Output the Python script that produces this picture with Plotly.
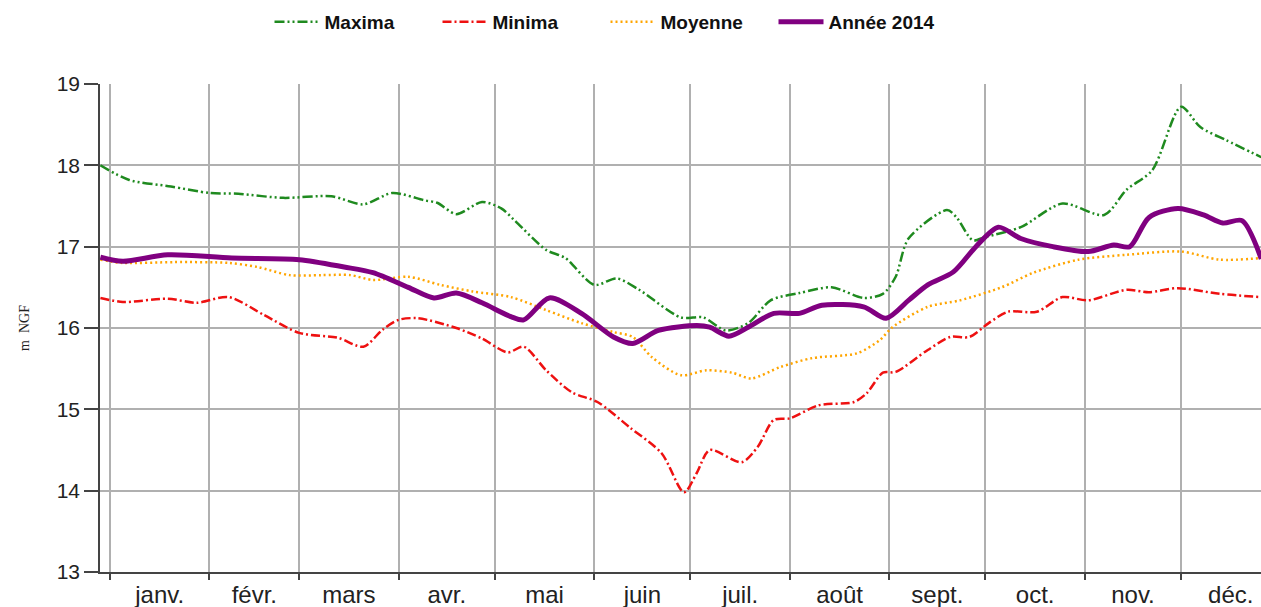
import pandas as pd
import plotly.graph_objects as go

# ---- data (x = days since 2014-01-01, y = m NGF) ----
max_days = [-3, 6, 19, 31, 40, 54, 69, 79, 88, 98, 102, 108, 116, 122, 126, 136, 142, 151, 158, 165,
            178, 185, 192, 199, 206, 215, 225, 235, 241, 245, 249, 261, 264, 269, 273, 284, 297, 310,
            317, 325, 334, 340, 348, 359]
max_vals = [18.00, 17.82, 17.74, 17.66, 17.65, 17.60, 17.62, 17.52, 17.66, 17.57, 17.54, 17.40, 17.55,
            17.47, 17.33, 16.96, 16.86, 16.53, 16.61, 16.47, 16.13, 16.13, 15.97, 16.06, 16.34, 16.43,
            16.50, 16.37, 16.42, 16.63, 17.10, 17.45, 17.36, 17.08, 17.12, 17.24, 17.53, 17.39, 17.70,
            17.94, 18.72, 18.47, 18.31, 18.10]

min_days = [-3, 4, 18, 27, 37, 48, 59, 71, 79, 85, 90, 96, 108, 116, 124, 129, 136, 144, 152, 162,
            172, 179, 183, 187, 197, 202, 207, 212, 221, 232, 236, 241, 245, 255, 262, 268, 274, 280,
            289, 297, 305, 317, 324, 333, 346, 359]
min_vals = [16.37, 16.32, 16.36, 16.31, 16.38, 16.16, 15.94, 15.88, 15.77, 15.98, 16.10, 16.12, 16.00,
            15.87, 15.70, 15.77, 15.48, 15.21, 15.09, 14.78, 14.46, 13.98, 14.22, 14.50, 14.35, 14.54,
            14.87, 14.89, 15.05, 15.09, 15.20, 15.45, 15.46, 15.73, 15.89, 15.89, 16.06, 16.20, 16.20,
            16.38, 16.34, 16.47, 16.44, 16.49, 16.42, 16.38]

moy_days = [-3, 4, 20, 37, 46, 56, 66, 75, 82, 93, 103, 113, 125, 136, 147, 157, 163, 169, 178, 186,
            194, 200, 209, 219, 233, 240, 244, 255, 265, 278, 288, 302, 317, 334, 346, 359]
moy_vals = [16.84, 16.80, 16.81, 16.80, 16.75, 16.65, 16.65, 16.65, 16.59, 16.63, 16.53, 16.45, 16.38,
            16.22, 16.06, 15.95, 15.89, 15.64, 15.42, 15.48, 15.45, 15.38, 15.52, 15.63, 15.69, 15.85,
            16.01, 16.26, 16.34, 16.50, 16.68, 16.84, 16.90, 16.94, 16.84, 16.86]

y2014_days = [-3, 4, 18, 38, 59, 73, 82, 93, 101, 108, 116, 125, 129, 137, 147, 157, 163, 171, 183,
              187, 193, 199, 207, 215, 222, 235, 242, 249, 255, 263, 270, 277, 284, 294, 305, 313, 318,
              324, 333, 341, 347, 353, 359]
y2014_vals = [16.87, 16.82, 16.90, 16.86, 16.84, 16.75, 16.68, 16.50, 16.37, 16.43, 16.31, 16.14, 16.10,
              16.37, 16.18, 15.89, 15.81, 15.97, 16.03, 16.01, 15.90, 16.01, 16.18, 16.18, 16.28, 16.26,
              16.12, 16.34, 16.53, 16.69, 17.00, 17.24, 17.10, 17.00, 16.94, 17.02, 17.00, 17.36, 17.47,
              17.39, 17.29, 17.32, 16.85]

month_labels = ["janv.", "févr.", "mars", "avr.", "mai", "juin", "juil.", "août", "sept.", "oct.",
                "nov.", "déc."]
y_ticks = [13, 14, 15, 16, 17, 18, 19]

base = pd.Timestamp("2014-01-01")


def to_dates(days):
    return [base + pd.Timedelta(days=d) for d in days]


month_starts = [pd.Timestamp(2014, m, 1) for m in range(1, 13)]
month_ends = month_starts[1:] + [pd.Timestamp(2015, 1, 1)]
month_mids = [s + (e - s) / 2 for s, e in zip(month_starts, month_ends)]

fig = go.Figure()
fig.add_trace(go.Scatter(x=to_dates(max_days), y=max_vals, name="Maxima", mode="lines",
                         line=dict(color="#1f8a1f", width=2.5, dash="10px,3px,2px,3px,2px,3px",
                                   shape="spline", smoothing=0.8)))
fig.add_trace(go.Scatter(x=to_dates(min_days), y=min_vals, name="Minima", mode="lines",
                         line=dict(color="#ee1111", width=2.5, dash="9px,3px,2px,3px",
                                   shape="spline", smoothing=0.8)))
fig.add_trace(go.Scatter(x=to_dates(moy_days), y=moy_vals, name="Moyenne", mode="lines",
                         line=dict(color="#ffa500", width=2.5, dash="2px,3px",
                                   shape="spline", smoothing=0.8)))
fig.add_trace(go.Scatter(x=to_dates(y2014_days), y=y2014_vals, name="Année 2014", mode="lines",
                         line=dict(color="#800080", width=5, shape="spline", smoothing=0.8)))

fig.update_layout(
    width=1261, height=607,
    margin=dict(l=100, r=0, t=84, b=35),
    paper_bgcolor="white", plot_bgcolor="white",
    font=dict(family="Liberation Sans, Arial, sans-serif", color="#222"),
    showlegend=True,
    legend=dict(orientation="h", x=0.146, xanchor="left", y=1.127, yanchor="middle",
                font=dict(size=19, weight="bold", color="#111"), itemwidth=45,
                entrywidth=108, entrywidthmode="pixels"),
    xaxis=dict(
        range=[pd.Timestamp("2013-12-28 21:00"), pd.Timestamp("2014-12-25 22:00")],
        tickmode="array", tickvals=month_mids, ticktext=month_labels, ticks="",
        showgrid=False, showline=True, linecolor="#444", linewidth=1.5,
        tickfont=dict(size=24, color="#222"), zeroline=False,
        minor=dict(tickmode="array", tickvals=month_starts, ticks="outside", ticklen=6,
                   tickcolor="#444", tickwidth=1.5, showgrid=True, gridcolor="#b0b0b0", gridwidth=1.7),
    ),
    yaxis=dict(
        range=[13, 19], tickmode="array", tickvals=y_ticks, ticks="outside", ticklen=14,
        tickcolor="#444", tickwidth=1.5, showgrid=True, gridcolor="#b0b0b0", gridwidth=1.7,
        showline=True, linecolor="#444", linewidth=1.5, zeroline=False,
        tickfont=dict(size=21, color="#222"),
        title=dict(text="m  NGF", font=dict(family="Liberation Serif, DejaVu Serif, serif", size=14,
                                            color="#222"), standoff=24),
    ),
)

fig.write_html("out.html", config={"displayModeBar": False},
               post_script="document.body.style.margin='0';")
